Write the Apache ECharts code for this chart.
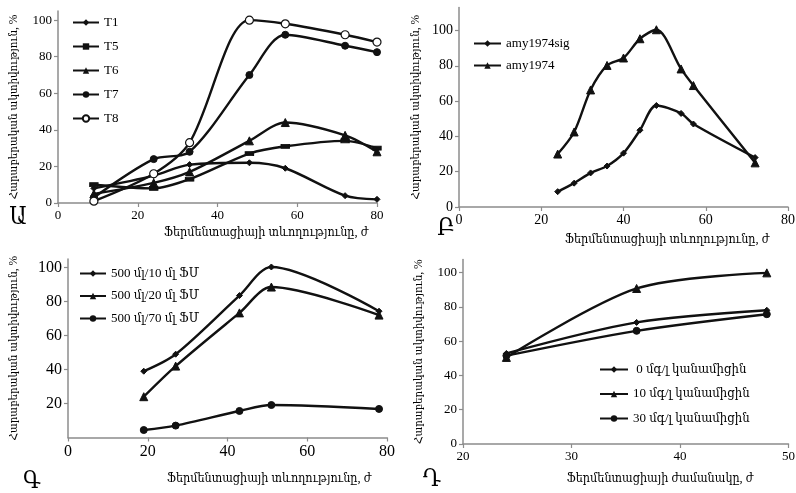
<!DOCTYPE html>
<html>
<head>
<meta charset="utf-8">
<script src="https://cdn.jsdelivr.net/npm/echarts@6/dist/echarts.min.js"></script>
<style>
html,body{margin:0;padding:0;background:#fff;}
#c{width:796px;height:493px;}
</style>
</head>
<body>
<div id="c"></div>
<script>
// ---- Panel Ա ----
const xA = [9, 24, 33, 48, 57, 72, 80];
const T1 = [8, 15, 21, 22, 19, 4, 2];
const T5 = [10, 8, 13, 27, 31, 34, 30];
const T6 = [5, 11, 17, 34, 44, 37, 28];
const T7 = [3, 24, 28, 70, 92, 86, 82.5];
const T8 = [1, 16, 33, 100, 98, 92, 88];
// ---- Panel Բ ----
const xB = [24, 28, 32, 36, 40, 44, 48, 54, 57, 72];
const amy1974sig = [8.7, 13.5, 19.3, 23.2, 30.5, 43.5, 57.5, 53, 47, 28];
const amy1974 = [30, 42.5, 66.3, 80.2, 84.4, 95.3, 100.4, 78.2, 68.8, 25];
// ---- Panel Գ ----
const xC = [19, 27, 43, 51, 78];
const c10 = [39, 49, 83.5, 100.3, 74.3];
const c20 = [24, 42, 73.3, 88.5, 72];
const c70 = [4.4, 7, 15.6, 19.1, 16.8];
// ---- Panel Դ ----
const xD = [24, 36, 48];
const d0 = [52.8, 70.9, 78];
const d10 = [50.5, 90.7, 99.8];
const d30 = [51.5, 66, 75.7];

const yName = 'Հարաբերական ակտիվություն, %';
const xName1 = 'Ֆերմենտացիայի տևողությունը, ժ';
const xName2 = 'Ֆերմենտացիայի ժամանակը, ժ';

const FONT = "'Liberation Serif','DejaVu Serif Condensed','DejaVu Serif',serif";
const AXC = '#8c8c8c';
const LC = '#111';

function pairs(xs, ys) { return xs.map((x, i) => [x, ys[i]]); }

function axisBase(fs) {
  return {
    axisLine: { show: true, onZero: false, lineStyle: { color: AXC, width: 1.5 } },
    axisTick: { show: true, inside: false, length: 4, lineStyle: { color: AXC, width: 1.2 } },
    axisLabel: { color: '#000', fontFamily: FONT, fontSize: fs, margin: 6 },
    splitLine: { show: false }
  };
}

function xAx(gi, min, max, interval, fs) {
  const a = axisBase(fs);
  return Object.assign(a, { type: 'value', gridIndex: gi, min: min, max: max, interval: interval });
}
function yAx(gi, max, labels, ticks, fs, gap) {
  const a = axisBase(fs);
  a.axisLabel.customValues = labels;
  a.axisTick.customValues = ticks;
  return Object.assign(a, {
    type: 'value', gridIndex: gi, min: 0, max: max,
    name: yName, nameLocation: 'middle', nameRotate: 90, nameGap: gap,
    nameTextStyle: { fontFamily: FONT, fontSize: 11.5, color: '#000' }
  });
}

function ser(name, gi, xs, ys, symbol, size, extra) {
  return Object.assign({
    name: name, type: 'line', xAxisIndex: gi, yAxisIndex: gi,
    data: pairs(xs, ys), smooth: 0.3,
    symbol: symbol, symbolSize: size, showSymbol: true,
    lineStyle: { color: LC, width: 2.4 },
    itemStyle: { color: LC, borderColor: LC },
    emphasis: { disabled: true }, animation: false, z: 3
  }, extra || {});
}

function legend(names, left, top, gap, w) {
  return {
    data: names, orient: 'vertical', left: left, top: top, padding: 0,
    itemWidth: w, itemHeight: 8, itemGap: gap,
    selectedMode: false,
    textStyle: { fontFamily: FONT, fontSize: 13, lineHeight: 12, color: '#000' }
  };
}

function label(text, x, y, fs) {
  return { type: 'text', x: x, y: y, style: { text: text, fontFamily: FONT, fontSize: fs, fill: '#000', align: 'center', verticalAlign: 'middle' } };
}

const option = {
  backgroundColor: '#fff',
  animation: false,
  grid: [
    { left: 58, top: 11, width: 319, height: 192, outerBoundsMode: 'none' },
    { left: 459, top: 7.5, width: 329, height: 199.5, outerBoundsMode: 'none' },
    { left: 68, top: 259, width: 319, height: 178.5, outerBoundsMode: 'none' },
    { left: 463, top: 259.5, width: 325.5, height: 184.5, outerBoundsMode: 'none' }
  ],
  xAxis: [
    xAx(0, 0, 80, 20, 13),
    xAx(1, 0, 80, 20, 14),
    xAx(2, 0, 80, 20, 16),
    xAx(3, 20, 50, 10, 13)
  ],
  yAxis: [
    yAx(0, 105, [0, 20, 40, 60, 80, 100], [0, 20, 40, 60, 80, 100], 13, 38),
    yAx(1, 113, [0, 20, 40, 60, 80, 100], [0, 20, 40, 60, 80, 100], 14, 37),
    yAx(2, 105, [20, 40, 60, 80, 100], [20, 40, 60, 80, 100], 16, 48),
    yAx(3, 107.6, [0, 20, 40, 60, 80, 100], [0, 20, 40, 60, 80, 100], 13, 38)
  ],
  legend: [
    legend(['T1', 'T5', 'T6', 'T7', 'T8'], 72, 16, 11, 26),
    legend(['amy1974sig', 'amy1974'], 473, 37, 9, 27),
    legend(['500 մլ/10 մլ ՖՄ', '500 մլ/20 մլ ՖՄ', '500 մլ/70 մլ ՖՄ'], 79, 267, 9.5, 26),
    legend([' 0 մգ/լ կանամիցին', '10 մգ/լ կանամիցին', '30 մգ/լ կանամիցին'], 599, 363, 11.5, 28)
  ],
  series: [
    ser('T1', 0, xA, T1, 'diamond', 6),
    ser('T5', 0, xA, T5, 'rect', [8, 4]),
    ser('T6', 0, xA, T6, 'triangle', 8),
    ser('T7', 0, xA, T7, 'circle', 7),
    ser('T8', 0, xA, T8, 'circle', 8, { itemStyle: { color: '#fff', borderColor: LC, borderWidth: 1.2 } }),
    ser('amy1974sig', 1, xB, amy1974sig, 'diamond', 6),
    ser('amy1974', 1, xB, amy1974, 'triangle', 8),
    ser('500 մլ/10 մլ ՖՄ', 2, xC, c10, 'diamond', 6),
    ser('500 մլ/20 մլ ՖՄ', 2, xC, c20, 'triangle', 8),
    ser('500 մլ/70 մլ ՖՄ', 2, xC, c70, 'circle', 7),
    ser(' 0 մգ/լ կանամիցին', 3, xD, d0, 'diamond', 6),
    ser('10 մգ/լ կանամիցին', 3, xD, d10, 'triangle', 8),
    ser('30 մգ/լ կանամիցին', 3, xD, d30, 'circle', 7)
  ],
  graphic: [
    label(xName1, 266, 233, 12.5),
    label(xName1, 667, 240, 12.5),
    label(xName1, 269, 479, 12.5),
    label(xName2, 660, 479, 12.5),
    label('Ա', 18, 218, 24),
    label('Բ', 446, 229, 24),
    label('Գ', 32, 482, 24),
    label('Դ', 432, 480, 24)
  ]
};

const chart = echarts.init(document.getElementById('c'), null, { renderer: 'canvas' });
chart.setOption(option);
</script>
</body>
</html>
